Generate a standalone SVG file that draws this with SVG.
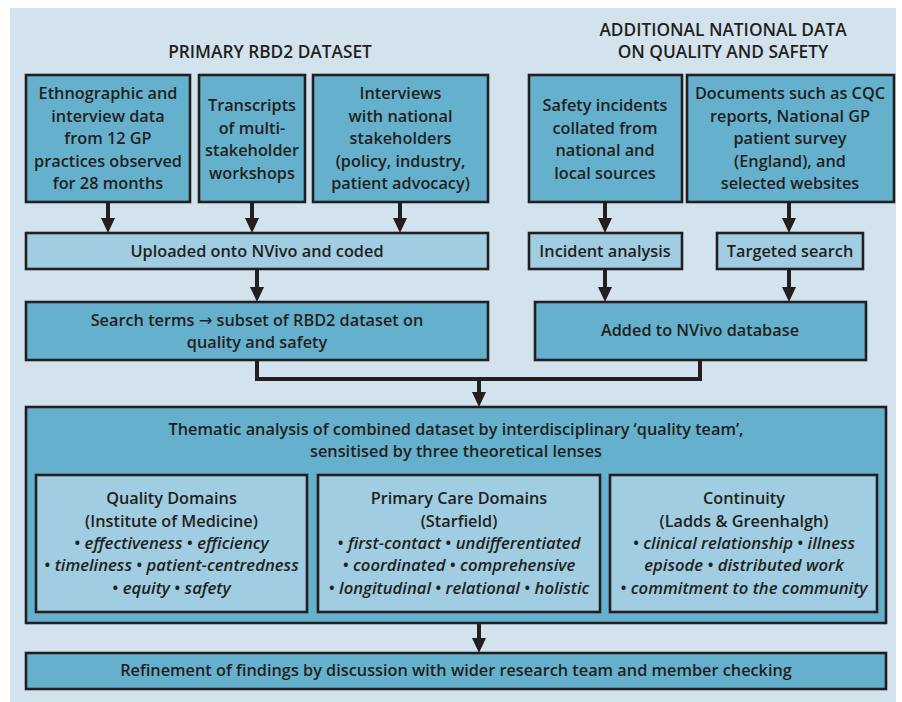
<svg xmlns="http://www.w3.org/2000/svg" width="902" height="702" viewBox="0 0 902 702">
<style>
.bg{fill:#d2e3ed}
.dk{fill:#65b1cd;stroke:#231f20;stroke-width:2.6}
.lt{fill:#a0cde1;stroke:#231f20;stroke-width:2.6}
text{font-family:"Open Sans","Noto Sans","Liberation Sans",sans-serif;font-weight:600;font-size:16.3px;fill:#231f20;text-anchor:middle}
.h{font-size:17.3px}
.i{font-style:italic;font-size:16.7px}
.ar{font-family:"DejaVu Sans",sans-serif;font-weight:400}
.c{fill:none;stroke:#231f20;stroke-width:4}
</style>
<defs>
<marker id="arr" viewBox="0 0 15 14" refX="7" refY="7" markerWidth="15" markerHeight="14" markerUnits="userSpaceOnUse" orient="auto">
<path d="M0,0 L15,7 L0,14 z" fill="#231f20"/>
</marker>
</defs>
<rect class="bg" x="10" y="8" width="886" height="694"/>
<text class="h" x="270" y="58">PRIMARY RBD2 DATASET</text>
<text class="h" x="723" y="36">ADDITIONAL NATIONAL DATA</text>
<text class="h" x="723" y="58">ON QUALITY AND SAFETY</text>

<g id="connectors">
<path class="c" d="M108,202 V225" marker-end="url(#arr)"/>
<path class="c" d="M252,202 V225" marker-end="url(#arr)"/>
<path class="c" d="M400,202 V225" marker-end="url(#arr)"/>
<path class="c" d="M605,202 V225" marker-end="url(#arr)"/>
<path class="c" d="M789,202 V225" marker-end="url(#arr)"/>
<path class="c" d="M257,269 V294" marker-end="url(#arr)"/>
<path class="c" d="M605,269 V294" marker-end="url(#arr)"/>
<path class="c" d="M789,269 V294" marker-end="url(#arr)"/>
<path class="c" d="M257,360 V379 H700 V360"/>
<path class="c" d="M479,379 V399" marker-end="url(#arr)"/>
<path class="c" d="M479,623 V645" marker-end="url(#arr)"/>
</g>

<g id="n-ethno">
<rect class="dk" x="26" y="75" width="164" height="127"/>
<text x="108" y="99">Ethnographic and</text>
<text x="108" y="121.5">interview data</text>
<text x="108" y="144">from 12 GP</text>
<text x="108" y="166.5">practices observed</text>
<text x="108" y="189">for 28 months</text>
</g>
<g id="n-transcripts">
<rect class="dk" x="199" y="75" width="106" height="127"/>
<text x="252" y="111">Transcripts</text>
<text x="252" y="133.5">of multi-</text>
<text x="252" y="156">stakeholder</text>
<text x="252" y="178.5">workshops</text>
</g>
<g id="n-interviews">
<rect class="dk" x="313" y="75" width="175" height="127"/>
<text x="400.5" y="99">Interviews</text>
<text x="400.5" y="121.5">with national</text>
<text x="400.5" y="144">stakeholders</text>
<text x="400.5" y="166.5">(policy, industry,</text>
<text x="400.5" y="189">patient advocacy)</text>
</g>
<g id="n-safety">
<rect class="dk" x="529" y="75" width="153" height="127"/>
<text x="605" y="111">Safety incidents</text>
<text x="605" y="133.5">collated from</text>
<text x="605" y="156">national and</text>
<text x="605" y="178.5">local sources</text>
</g>
<g id="n-documents">
<rect class="dk" x="687" y="75" width="207" height="127"/>
<text x="790" y="99">Documents such as CQC</text>
<text x="790" y="121.5">reports, National GP</text>
<text x="790" y="144">patient survey</text>
<text x="790" y="166.5">(England), and</text>
<text x="790" y="189">selected websites</text>
</g>
<g id="n-uploaded">
<rect class="lt" x="26" y="233" width="462" height="36"/>
<text x="257" y="256.5">Uploaded onto NVivo and coded</text>
</g>
<g id="n-incident">
<rect class="lt" x="529" y="233" width="153" height="36"/>
<text x="605" y="256.5">Incident analysis</text>
</g>
<g id="n-targeted">
<rect class="lt" x="717" y="233" width="146" height="36"/>
<text x="790" y="256.5">Targeted search</text>
</g>
<g id="n-search">
<rect class="dk" x="26" y="302" width="462" height="58"/>
<text x="257" y="325.5">Search terms <tspan class="ar">→</tspan> subset of RBD2 dataset on</text>
<text x="257" y="348">quality and safety</text>
</g>
<g id="n-added">
<rect class="dk" x="535" y="302" width="331" height="58"/>
<text x="700" y="335.5">Added to NVivo database</text>
</g>
<g id="n-thematic">
<rect class="dk" x="26" y="407" width="860" height="216"/>
<text x="456" y="435">Thematic analysis of combined dataset by interdisciplinary ‘quality team’,</text>
<text x="456" y="457">sensitised by three theoretical lenses</text>
</g>
<g id="n-quality">
<rect class="lt" x="36" y="475" width="271" height="137"/>
<text x="171.5" y="504">Quality Domains</text>
<text x="171.5" y="526.5">(Institute of Medicine)</text>
<text x="171.5" y="549">• <tspan class="i">effectiveness</tspan> • <tspan class="i">efficiency</tspan></text>
<text x="171.5" y="571">• <tspan class="i">timeliness</tspan> • <tspan class="i">patient-centredness</tspan></text>
<text x="171.5" y="593.5">• <tspan class="i">equity</tspan> • <tspan class="i">safety</tspan></text>
</g>
<g id="n-primary">
<rect class="lt" x="318" y="475" width="282" height="137"/>
<text x="459" y="504">Primary Care Domains</text>
<text x="459" y="526.5">(Starfield)</text>
<text x="459" y="549">• <tspan class="i">first-contact</tspan> • <tspan class="i">undifferentiated</tspan></text>
<text x="459" y="571">• <tspan class="i">coordinated</tspan> • <tspan class="i">comprehensive</tspan></text>
<text x="459" y="593.5">• <tspan class="i">longitudinal</tspan> • <tspan class="i">relational</tspan> • <tspan class="i">holistic</tspan></text>
</g>
<g id="n-continuity">
<rect class="lt" x="610" y="475" width="267" height="137"/>
<text x="744" y="504">Continuity</text>
<text x="744" y="526.5">(Ladds &amp; Greenhalgh)</text>
<text x="744" y="549">• <tspan class="i">clinical relationship</tspan> • <tspan class="i">illness</tspan></text>
<text x="744" y="571"><tspan class="i">episode</tspan> • <tspan class="i">distributed work</tspan></text>
<text x="744" y="593.5">• <tspan class="i">commitment to the community</tspan></text>
</g>
<g id="n-refinement">
<rect class="dk" x="26" y="653" width="860" height="36"/>
<text x="456" y="675.5">Refinement of findings by discussion with wider research team and member checking</text>
</g>
</svg>
